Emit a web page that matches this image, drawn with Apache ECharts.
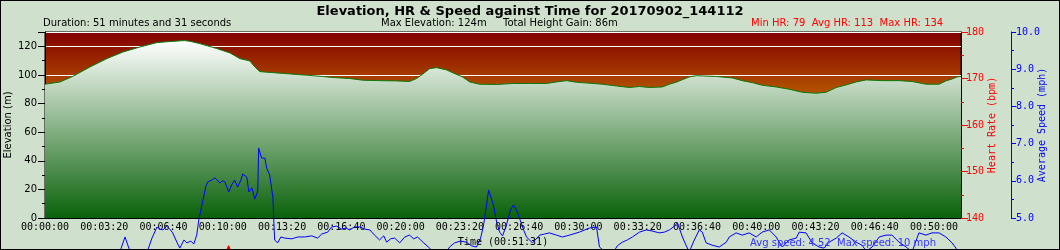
<!DOCTYPE html>
<html>
<head>
<meta charset="utf-8">
<script src="https://cdn.jsdelivr.net/npm/echarts@6/dist/echarts.min.js"></script>
<style>
html,body{margin:0;padding:0;background:#cfe0cc;}
#chart{width:1060px;height:250px;}
</style>
</head>
<body>
<div id="chart"></div>
<script>
// ---- Data ----
const titleText = 'Elevation, HR & Speed against Time for 20170902_144112';
const durationText = 'Duration: 51 minutes and 31 seconds';
const maxElevText = 'Max Elevation: 124m';
const gainText = 'Total Height Gain: 86m';
const hrText = 'Min HR: 79  Avg HR: 113  Max HR: 134';
const speedText = 'Avg speed: 4.52  Max speed: 10 mph';
const totalSeconds = 3091;

// elevation profile: time (s) and elevation (m)
const elevTime = [0,3,51,94,152,209,263,320,378,421,470,489,522,580,624,657,691,708,725,769,826,883,937,971,1028,1072,1129,1187,1230,1254,1274,1298,1321,1355,1375,1409,1433,1466,1524,1578,1635,1692,1726,1760,1793,1837,1881,1928,1972,2006,2039,2083,2107,2130,2151,2174,2198,2265,2319,2353,2387,2420,2467,2511,2555,2602,2636,2670,2703,2737,2771,2825,2882,2926,2973,3017,3040,3061,3078,3091];
const elevValue = [93.5,93.5,95.1,99,105.6,111.4,116,119.5,122.6,123.3,124,123.5,121.9,118.4,115.4,111.4,109.8,105.6,102.3,101.6,100.7,99.8,98.9,98.2,97.5,96.3,96,95.8,95.4,97.5,100.5,104.4,105.1,103.5,101.6,98.6,95.1,93.5,93.3,94,94,94,95.1,96,94.9,94.2,93.5,92.3,91.2,91.9,91.2,91.6,93.5,94.9,96.7,98.6,99.5,98.9,97.9,96,94.6,92.8,91.6,90,87.9,87.2,87.9,91.2,93,95.1,96.5,96,96,95.4,93.5,93.5,95.8,97.2,98.6,99];

// heart rate: time (s) and bpm (mostly below the 140 axis floor)
const hrTime = [0,120,240,360,480,560,600,620,640,700,800,1000,1300,1500,1800,2100,2400,2700,3000,3091];
const hrValue = [79,92,101,108,118,126,131,134,130,124,116,112,110,117,113,112,111,110,112,108];

// average speed: time (s) and mph
const speedTime = [0,84,185,236,253,270,287,313,347,361,378,388,398,411,421,431,445,455,469,479,492,502,512,519,533,543,549,563,573,583,590,600,607,620,630,640,650,661,667,681,688,698,708,715,718,721,731,742,748,758,769,772,775,785,796,809,833,853,876,900,920,934,954,967,984,1001,1015,1028,1045,1062,1079,1096,1112,1129,1143,1153,1166,1180,1197,1214,1230,1244,1257,1278,1298,1321,1348,1365,1382,1402,1422,1439,1456,1470,1480,1490,1497,1503,1513,1524,1534,1544,1557,1571,1581,1591,1601,1615,1625,1645,1669,1686,1702,1726,1746,1770,1803,1837,1861,1871,1891,1915,1931,1948,1965,1982,2006,2029,2049,2073,2090,2107,2124,2134,2151,2164,2174,2191,2208,2218,2231,2251,2275,2299,2309,2332,2353,2376,2400,2420,2444,2467,2488,2511,2535,2545,2568,2589,2612,2629,2646,2670,2690,2713,2737,2757,2771,2791,2815,2838,2858,2882,2906,2926,2949,2973,2993,3017,3040,3061,3074,3088];
const speedValue = [3.5,3.8,3.9,4.0,4.1,4.49,4.1,3.9,4.14,4.46,4.76,4.70,4.68,4.78,4.70,4.60,4.35,4.19,4.41,4.33,4.38,4.30,4.54,4.95,5.48,5.86,5.97,6.02,6.08,6.0,5.94,6.0,5.97,5.70,5.89,6.02,5.83,6.02,6.18,6.10,5.70,5.81,5.51,5.65,5.75,6.88,6.61,6.61,6.34,6.16,5.56,4.95,4.41,4.33,4.49,4.46,4.44,4.49,4.49,4.52,4.46,4.57,4.62,4.76,4.78,4.70,4.73,4.68,4.76,4.76,4.70,4.68,4.54,4.41,4.52,4.35,4.44,4.46,4.33,4.49,4.54,4.44,4.49,4.33,4.19,3.98,4.0,4.22,4.33,4.38,4.35,4.25,4.22,4.46,4.81,5.35,5.75,5.70,5.35,4.89,4.62,4.52,4.81,5.22,5.35,5.22,5.0,4.68,4.49,4.33,4.54,4.57,4.60,4.54,4.49,4.54,4.62,4.73,4.76,4.22,4.09,4.03,4.25,4.35,4.41,4.49,4.62,4.68,4.65,4.60,4.62,4.68,4.78,4.87,4.49,4.25,4.09,4.41,4.68,4.62,4.33,4.27,4.22,4.35,4.49,4.60,4.54,4.60,4.49,4.62,4.68,4.49,4.22,4.41,4.46,4.62,4.60,4.33,4.22,4.19,4.35,4.46,4.60,4.49,4.35,4.27,4.11,4.22,4.49,4.54,4.54,4.35,4.22,4.09,4.60,4.54,4.60,4.60,4.49,4.33,4.19,3.98];

// ---- Chart ----
function pad(n){return (n<10?'0':'')+n;}
function hms(v){v=Math.round(v);return pad(Math.floor(v/3600))+':'+pad(Math.floor(v%3600/60))+':'+pad(v%60);}
function zip(a,b){return a.map((x,i)=>[x,b[i]]);}

const sans = 'DejaVu Sans';
const mono = 'DejaVu Sans Mono';
const G = {left:45, top:32, width:916, height:186};

const chart = echarts.init(document.getElementById('chart'), null, {renderer:'canvas'});
chart.setOption({
  animation:false,
  backgroundColor:'#cfe0cc',
  title:{
    text:titleText, left:'center', top:0,
    textStyle:{fontFamily:sans,fontSize:13,fontWeight:'bold',color:'#000'}
  },
  graphic:[
    {type:'rect',silent:true,z:-1,zlevel:0,shape:{x:G.left,y:G.top,width:G.width,height:G.height},
      style:{fill:new echarts.graphic.LinearGradient(0,0,0,1,[{offset:0,color:'#820000'},{offset:0.3,color:'#b04c00'},{offset:1,color:'#ffb000'}])}},
    {type:'rect',shape:{x:0,y:0,width:1060,height:250},style:{fill:'none',stroke:'#000',lineWidth:2},z:100},
    {type:'text',x:43,y:23,style:{text:durationText,font:'10px "DejaVu Sans"',fill:'#000',textVerticalAlign:'middle'}},
    {type:'text',x:381,y:23,style:{text:maxElevText,font:'10px "DejaVu Sans"',fill:'#000',textVerticalAlign:'middle'}},
    {type:'text',x:503,y:23,style:{text:gainText,font:'10px "DejaVu Sans"',fill:'#000',textVerticalAlign:'middle'}},
    {type:'text',x:751,y:23,style:{text:hrText,font:'10px "DejaVu Sans"',fill:'#ff0000',textVerticalAlign:'middle'}},
    {type:'text',x:750,y:243,z:50,style:{text:speedText,font:'10px "DejaVu Sans"',fill:'#3333ff',textVerticalAlign:'middle'}}
  ],
  grid:{
    left:G.left,top:G.top,width:G.width,height:G.height,show:true,
    containLabel:false,outerBoundsMode:'none',
    backgroundColor:'transparent',
    borderColor:'#000',borderWidth:1
  },
  xAxis:{
    type:'value',min:0,max:totalSeconds,interval:200,
    name:'Time ('+hms(totalSeconds)+')',nameLocation:'middle',nameGap:19,nameMoveOverlap:false,
    nameTextStyle:{fontFamily:mono,fontSize:10,color:'#000'},
    axisLine:{show:true,lineStyle:{color:'#000'}},
    axisTick:{show:true,inside:true,length:5,lineStyle:{color:'#000'}},
    minorTick:{show:true,splitNumber:2,length:3,lineStyle:{color:'#000'}},
    axisLabel:{formatter:hms,margin:4,fontFamily:mono,fontSize:10,color:'#000',showMaxLabel:false},
    splitLine:{show:false}
  },
  yAxis:[
    {
      type:'value',position:'left',min:0,max:130,interval:20,
      name:'Elevation (m)',nameLocation:'middle',nameGap:32,nameMoveOverlap:false,
      nameTextStyle:{fontFamily:sans,fontSize:10,color:'#000'},
      axisLine:{show:true,lineStyle:{color:'#000'}},
      axisTick:{show:true,length:7,lineStyle:{color:'#000'}},
      minorTick:{show:true,splitNumber:2,length:3,lineStyle:{color:'#000'}},
      axisLabel:{margin:8,fontFamily:sans,fontSize:10,color:'#000',showMaxLabel:false},
      splitLine:{show:true,lineStyle:{color:'#ffffff',width:1}}
    },
    {
      type:'value',position:'right',min:140,max:180,interval:10,
      name:'Heart Rate (bpm)',nameLocation:'middle',nameGap:26,nameMoveOverlap:false,
      nameTextStyle:{fontFamily:mono,fontSize:10,color:'#ff0000'},
      axisLine:{show:true,lineStyle:{color:'#000'}},
      axisTick:{show:true,length:7,lineStyle:{color:'#ff0000'}},
      minorTick:{show:true,splitNumber:2,length:3,lineStyle:{color:'#ff0000'}},
      axisLabel:{margin:5,fontFamily:mono,fontSize:10,color:'#ff0000'},
      splitLine:{show:false}
    },
    {
      type:'value',position:'right',offset:50,min:5,max:10,interval:1,
      name:'Average Speed (mph)',nameLocation:'middle',nameGap:26,nameMoveOverlap:false,
      nameTextStyle:{fontFamily:mono,fontSize:10,color:'#0000ff'},
      axisLine:{show:true,lineStyle:{color:'#0000ff'}},
      axisTick:{show:true,length:5,lineStyle:{color:'#0000ff'}},
      minorTick:{show:true,splitNumber:2,length:3,lineStyle:{color:'#0000ff'}},
      axisLabel:{margin:5,fontFamily:mono,fontSize:10,color:'#0000ff',formatter:v=>v.toFixed(1)},
      splitLine:{show:false}
    }
  ],
  series:[
    {
      type:'line',name:'Elevation',xAxisIndex:0,yAxisIndex:0,
      data:zip(elevTime,elevValue),symbol:'none',
      lineStyle:{color:'#0a7a0a',width:1},
      areaStyle:{opacity:1,color:{type:'linear',x:0,y:0,x2:0,y2:1,colorStops:[{offset:0,color:'#ffffff'},{offset:1,color:'#0a620a'}]}},
      z:2
    },
    {
      type:'line',name:'Heart Rate',xAxisIndex:0,yAxisIndex:1,
      data:zip(hrTime,hrValue),symbol:'none',clip:false,
      lineStyle:{color:'#ff0000',width:1.5},z:3
    },
    {
      type:'line',name:'Speed',xAxisIndex:0,yAxisIndex:2,
      data:zip(speedTime,speedValue),symbol:'none',clip:false,
      lineStyle:{color:'#0000ff',width:1},z:4
    }
  ]
});
</script>
</body>
</html>
